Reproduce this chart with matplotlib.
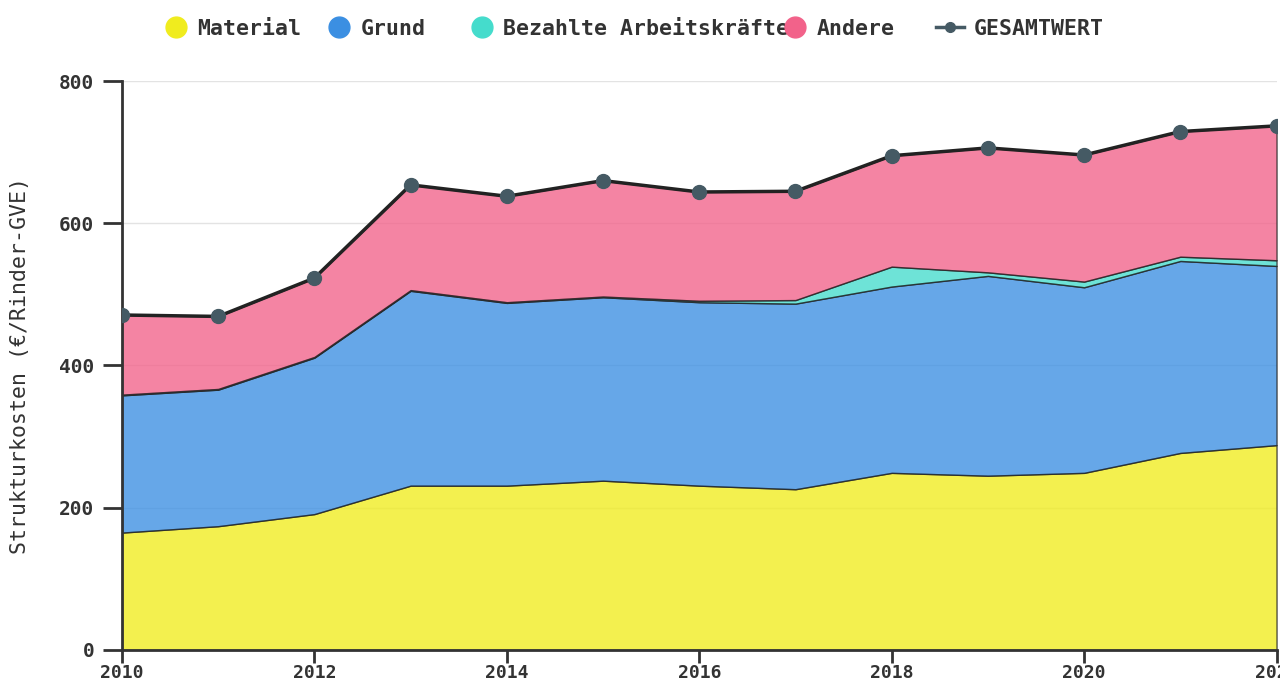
import numpy as np
import matplotlib.pyplot as plt
from matplotlib.lines import Line2D

plt.rcParams['font.family'] = ['DejaVu Sans Mono']
plt.rcParams['font.weight'] = 'bold'

years = np.arange(2010, 2023)
material = [165, 174, 191, 231, 231, 238, 231, 226, 249, 245, 249, 277, 288]
grund = [193, 192, 220, 274, 257, 258, 258, 261, 262, 281, 261, 270, 252]
arbeit = [1, 1, 1, 1, 1, 1, 2, 5, 28, 5, 8, 6, 8]
gesamt = [471, 469, 523, 654, 638, 660, 644, 645, 695, 706, 696, 729, 737]
andere = [g - m - gr - a for g, m, gr, a in zip(gesamt, material, grund, arbeit)]

names = ['Material', 'Grund', 'Bezahlte Arbeitskräfte', 'Andere']
colors = ['#f0ec1e', '#3b8fe2', '#45dccc', '#f2628a']

fig = plt.figure(figsize=(12.8, 6.87), dpi=100)
ax = fig.add_axes([0.0953, 0.054, 0.902, 0.828])

ax.stackplot(years, material, grund, arbeit, andere, colors=colors, alpha=0.78,
             edgecolor='#222222', linewidth=1.0)
ax.plot(years, gesamt, color='#222222', lw=2.5, zorder=3)
ax.plot(years, gesamt, 'o', color='#455a64', ms=10, zorder=4)

ax.set_xlim(2010, 2022)
ax.set_ylim(0, 800)
ax.set_xticks(range(2010, 2023, 2))
ax.set_yticks(range(0, 801, 200))
ax.grid(axis='y', color='#e3e3e3', lw=1)
ax.set_axisbelow(True)
for s in ['top', 'right']:
    ax.spines[s].set_visible(False)
for s in ['left', 'bottom']:
    ax.spines[s].set_color('#333333')
    ax.spines[s].set_linewidth(2)
ax.tick_params(axis='y', length=14, width=2, color='#333333', labelsize=14,
               labelcolor='#333333', pad=6)
ax.tick_params(axis='x', length=9, width=2, color='#333333', labelsize=13,
               labelcolor='#333333', pad=1)
ax.set_ylabel('Strukturkosten (€/Rinder-GVE)', fontsize=15.5, color='#333333')
ax.yaxis.set_label_coords(-0.0795, 0.5)

# legend entries placed one by one, like the reference
labels = names + ['GESAMTWERT']
handles = [Line2D([], [], ls='', marker='o', ms=15, color=c) for c in colors]
handles.append(Line2D([], [], color='#455a64', lw=2.5, marker='o', ms=7))
lefts = [164, 327, 470, 783, 936]
for h, lab, x0 in zip(handles, labels, lefts):
    leg = fig.legend([h], [lab], loc='center left', bbox_to_anchor=(x0 / 1280, 1 - 29 / 687),
                     frameon=False, fontsize=15.5, handletextpad=0.45,
                     handlelength=1.3 if lab == 'GESAMTWERT' else 1.1,
                     borderpad=0, borderaxespad=0, labelcolor='#333333')

fig.savefig('out.png', dpi=100)
